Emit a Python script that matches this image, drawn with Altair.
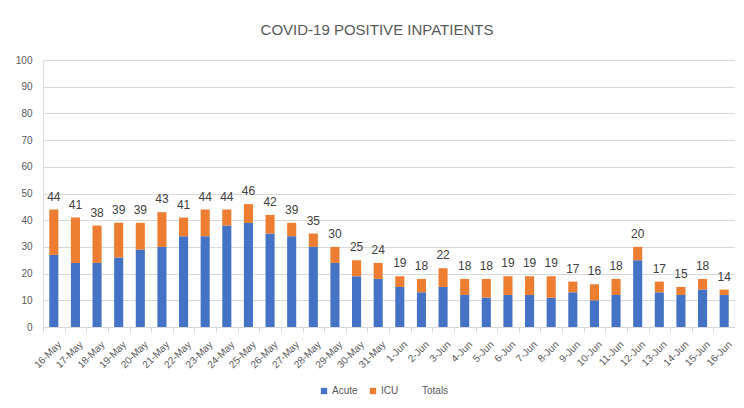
import altair as alt
import pandas as pd

dates = ["16-May", "17-May", "18-May", "19-May", "20-May", "21-May", "22-May", "23-May",
         "24-May", "25-May", "26-May", "27-May", "28-May", "29-May", "30-May", "31-May",
         "1-Jun", "2-Jun", "3-Jun", "4-Jun", "5-Jun", "6-Jun", "7-Jun", "8-Jun",
         "9-Jun", "10-Jun", "11-Jun", "12-Jun", "13-Jun", "14-Jun", "15-Jun", "16-Jun"]
acute = [27, 24, 24, 26, 29, 30, 34, 34, 38, 39, 35, 34, 30, 24, 19, 18,
         15, 13, 15, 12, 11, 12, 12, 11, 13, 10, 12, 25, 13, 12, 14, 12]
icu = [17, 17, 14, 13, 10, 13, 7, 10, 6, 7, 7, 5, 5, 6, 6, 6,
       4, 5, 7, 6, 7, 7, 7, 8, 4, 6, 6, 5, 4, 3, 4, 2]
totals = [44, 41, 38, 39, 39, 43, 41, 44, 44, 46, 42, 39, 35, 30, 25, 24,
          19, 18, 22, 18, 18, 19, 19, 19, 17, 16, 18, 20, 17, 15, 18, 14]
y_ticks = [0, 10, 20, 30, 40, 50, 60, 70, 80, 90, 100]
series = ["Acute", "ICU", "Totals"]
colors = ["#4472C4", "#ED7D31", "transparent"]

rows = []
for d, a, i in zip(dates, acute, icu):
    rows.append({"date": d, "series": "Acute", "value": a, "ord": 0})
    rows.append({"date": d, "series": "ICU", "value": i, "ord": 1})
long_df = pd.DataFrame(rows)
wide_df = pd.DataFrame({"date": dates, "acute": acute, "icu": icu, "total": totals})
wide_df["top"] = wide_df["acute"] + wide_df["icu"]

W, H = 692, 267
step = W / len(dates)

x_axis = alt.Axis(labelAngle=-45, labelFontSize=10, labelColor="#595959",
                  labelFont="Liberation Sans", domainColor="#d9d9d9",
                  tickColor="#d9d9d9", tickSize=5, labelPadding=7,
                  tickOffset=-step / 2, labelOffset=step / 2 + 2, grid=False,
                  labelOverlap=False)
x_scale = alt.Scale(paddingInner=0.58, paddingOuter=0.29)
y_axis = alt.Axis(values=y_ticks, labelFontSize=10, labelColor="#595959",
                  labelFont="Liberation Sans", domain=False, ticks=False,
                  gridColor="#d9d9d9", labelPadding=11, labelOverlap=False)
y_scale = alt.Scale(domain=[0, 100])

bars = alt.Chart(long_df).mark_bar().encode(
    x=alt.X("date:N", sort=dates, title=None, scale=x_scale, axis=x_axis),
    y=alt.Y("value:Q", stack="zero", title=None, scale=y_scale, axis=y_axis),
    color=alt.Color("series:N", scale=alt.Scale(domain=series, range=colors),
                    legend=alt.Legend(title=None, orient="none", direction="horizontal",
                                      legendX=276, legendY=326, symbolType="square",
                                      symbolSize=40, labelFontSize=10,
                                      labelColor="#595959", labelFont="Liberation Sans",
                                      columnPadding=10, labelOffset=3, symbolStrokeWidth=0)),
    order=alt.Order("ord:Q"),
)

labels = alt.Chart(wide_df).mark_text(
    baseline="bottom", dy=-6, fontSize=12, color="#404040", font="Liberation Sans"
).encode(
    x=alt.X("date:N", sort=dates, title=None, scale=x_scale, axis=x_axis),
    y=alt.Y("top:Q", title=None, scale=y_scale, axis=y_axis),
    text=alt.Text("total:Q"),
)

chart = alt.layer(bars, labels).properties(
    width=W, height=H,
    title=alt.TitleParams("COVID-19 POSITIVE INPATIENTS", fontSize=15, font="Liberation Sans",
                          fontWeight="normal", color="#595959", anchor="middle",
                          dx=-12, offset=17),
    padding={"left": 35, "top": 52, "right": 0, "bottom": 72},
    autosize=alt.AutoSizeParams(type="none"),
).configure_view(stroke=None).configure(background="white")

chart.save("out.html", embed_options={"renderer": "svg", "actions": False})
